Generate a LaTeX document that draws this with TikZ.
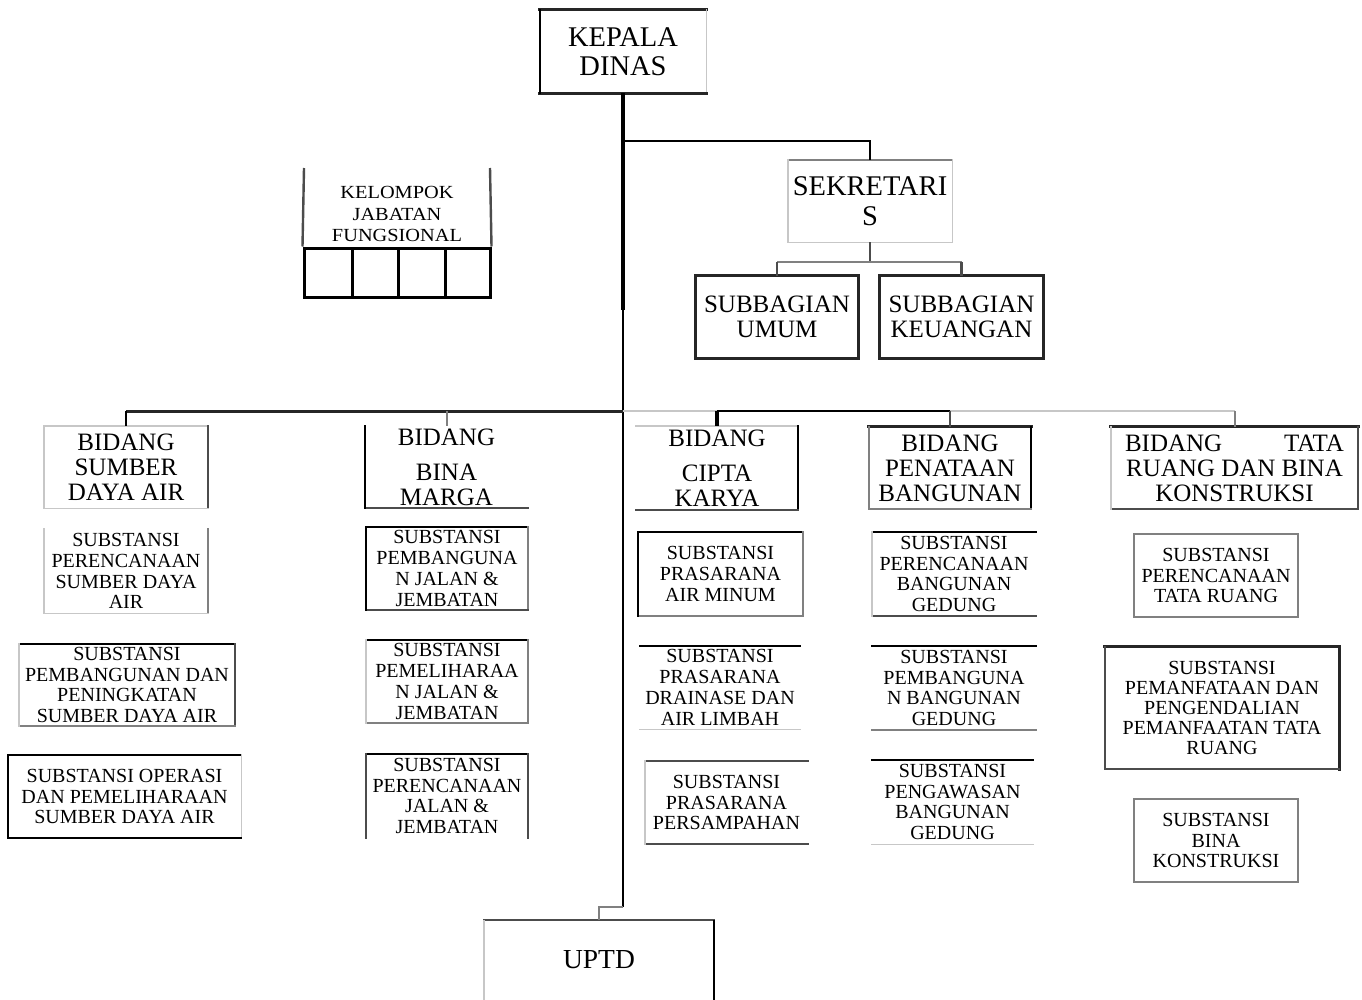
\documentclass[tikz,border=0pt]{standalone}
\usepackage{fontspec}
\setmainfont{Liberation Serif}
\newfontfamily\wideserif[FakeStretch=1.1]{Liberation Serif}
\newcommand\bigtxt{\fontsize{28.5}{29.5}\selectfont}
\newcommand\hdrtxt{\fontsize{25}{25}\selectfont}
\newcommand\subtxt{\fontsize{20}{20.8}\selectfont}
\newcommand\kjftxt{\wideserif\fontsize{18.5}{21.5}\selectfont}
\newcommand\edgesof[5]{%
  \draw[#2,line cap=rect] (#1.north west) -- (#1.north east);
  \draw[#3,line cap=rect] (#1.north east) -- (#1.south east);
  \draw[#4,line cap=rect] (#1.south east) -- (#1.south west);
  \draw[#5,line cap=rect] (#1.south west) -- (#1.north west);}
\begin{document}
\begin{tikzpicture}[x=1pt,y=-1pt,
  kline/.style={line width=2.2pt,black},
  tline/.style={line width=3pt,black!85},
  dline/.style={line width=2.4pt,black!70},
  gline/.style={line width=2pt,black!50},
  lline/.style={line width=1.4pt,black!22},
  nol/.style={draw=none},
  bx/.style={inner sep=0pt,align=center,text=black},
  bigbox/.style={bx,font=\bigtxt},
  hdrbox/.style={bx,font=\hdrtxt},
  subbox/.style={bx,font=\subtxt},
  cell/.style={draw=black,line width=3pt,inner sep=0pt}]
\useasboundingbox (0,0) rectangle (1362,999);
\fill[white] (0,0) rectangle (1362,999);

% ---------- top level ----------
\node[bigbox,minimum width=166pt,minimum height=83pt] (kd) at (623,51.5) {KEPALA\\DINAS};
\edgesof{kd}{tline}{lline}{tline}{kline}

\node[bigbox,minimum width=164pt,minimum height=82pt] (sek) at (870,201) {SEKRETARI\\S};
\edgesof{sek}{gline}{lline}{lline}{lline}

\node[hdrbox,minimum width=162pt,minimum height=82pt] (su) at (777,317) {SUBBAGIAN\\UMUM};
\edgesof{su}{tline}{tline}{tline}{tline}
\node[hdrbox,minimum width=163pt,minimum height=82pt] (sk) at (961.5,317) {SUBBAGIAN\\KEUANGAN};
\edgesof{sk}{tline}{tline}{tline}{tline}

% ---------- kelompok jabatan fungsional ----------
\node[bx,font=\kjftxt] (kjf) at (397,214) {KELOMPOK\\JABATAN\\FUNGSIONAL};
\node[cell,minimum width=48pt,minimum height=49pt] (c1) at (328,272.5) {};
\node[cell,minimum width=46pt,minimum height=49pt] (c2) at (375,272.5) {};
\node[cell,minimum width=47pt,minimum height=49pt] (c3) at (421.5,272.5) {};
\node[cell,minimum width=45pt,minimum height=49pt] (c4) at (467.5,272.5) {};
\coordinate (kl) at (304,168);
\coordinate (kr) at (490,168);
\draw[dline] (kl) -- (c1.north west);
\draw[dline] (kr) -- (c4.north east);

% ---------- bidang ----------
\node[hdrbox,minimum width=164pt,minimum height=82pt] (b1) at (126,467) {BIDANG\\SUMBER\\DAYA AIR};
\edgesof{b1}{lline}{dline}{lline}{lline}
\node[hdrbox,minimum width=163pt,minimum height=82pt] (b2) at (446.5,467) {BIDANG\\[10pt]BINA\\MARGA};
\edgesof{b2}{nol}{nol}{dline}{kline}
\node[hdrbox,minimum width=162pt,minimum height=84pt] (b3) at (717,468) {BIDANG\\[10pt]CIPTA\\KARYA};
\edgesof{b3}{lline}{kline}{dline}{nol}
\node[hdrbox,minimum width=162pt,minimum height=82pt] (b4) at (950,468) {BIDANG\\PENATAAN\\BANGUNAN};
\edgesof{b4}{tline}{kline}{gline}{gline}
\node[hdrbox,minimum width=247pt,minimum height=82pt] (b5) at (1234.5,468) {\makebox[219pt][s]{BIDANG\hfill TATA}\\RUANG DAN BINA\\KONSTRUKSI};
\edgesof{b5}{tline}{dline}{dline}{lline}

% ---------- substansi: sumber daya air ----------
\node[subbox,minimum width=164pt,minimum height=84pt] (s11) at (126,571) {SUBSTANSI\\PERENCANAAN\\SUMBER DAYA\\AIR};
\edgesof{s11}{nol}{gline}{lline}{lline}
\node[subbox,minimum width=216pt,minimum height=82pt] (s12) at (127,685) {SUBSTANSI\\PEMBANGUNAN DAN\\PENINGKATAN\\SUMBER DAYA AIR};
\edgesof{s12}{kline}{dline}{gline}{lline}
\node[subbox,minimum width=233pt,minimum height=83pt] (s13) at (124.5,796.5) {SUBSTANSI OPERASI\\DAN PEMELIHARAAN\\SUMBER DAYA AIR};
\edgesof{s13}{kline}{lline}{kline}{kline}

% ---------- substansi: bina marga ----------
\node[subbox,minimum width=162pt,minimum height=83pt] (s21) at (447,568.5) {SUBSTANSI\\PEMBANGUNA\\N JALAN \&\\JEMBATAN};
\edgesof{s21}{kline}{gline}{dline}{kline}
\node[subbox,minimum width=162pt,minimum height=83pt] (s22) at (447,681.5) {SUBSTANSI\\PEMELIHARAA\\N JALAN \&\\JEMBATAN};
\edgesof{s22}{kline}{gline}{gline}{lline}
\node[subbox,minimum width=162pt,minimum height=84pt] (s23) at (447,796) {SUBSTANSI\\PERENCANAAN\\JALAN \&\\JEMBATAN};
\edgesof{s23}{kline}{dline}{nol}{dline}

% ---------- substansi: cipta karya ----------
\node[subbox,minimum width=165pt,minimum height=84pt] (s31) at (720.5,574) {SUBSTANSI\\PRASARANA\\AIR MINUM};
\edgesof{s31}{kline}{gline}{gline}{kline}
\node[subbox,minimum width=160pt,minimum height=83pt] (s32) at (720,687.5) {SUBSTANSI\\PRASARANA\\DRAINASE DAN\\AIR LIMBAH};
\edgesof{s32}{kline}{nol}{lline}{nol}
\node[subbox,minimum width=163pt,minimum height=83pt] (s33) at (726.5,802.5) {SUBSTANSI\\PRASARANA\\PERSAMPAHAN};
\edgesof{s33}{dline}{nol}{dline}{lline}

% ---------- substansi: penataan bangunan ----------
\node[subbox,minimum width=164pt,minimum height=84pt] (s41) at (954,574) {SUBSTANSI\\PERENCANAAN\\BANGUNAN\\GEDUNG};
\edgesof{s41}{kline}{nol}{dline}{lline}
\node[subbox,minimum width=164pt,minimum height=84pt] (s42) at (954,688) {SUBSTANSI\\PEMBANGUNA\\N BANGUNAN\\GEDUNG};
\edgesof{s42}{kline}{nol}{gline}{nol}
\node[subbox,minimum width=161pt,minimum height=84pt] (s43) at (952.5,802) {SUBSTANSI\\PENGAWASAN\\BANGUNAN\\GEDUNG};
\edgesof{s43}{kline}{nol}{lline}{nol}

% ---------- substansi: tata ruang ----------
\node[subbox,minimum width=164pt,minimum height=83pt] (s51) at (1216,575.5) {SUBSTANSI\\PERENCANAAN\\TATA RUANG};
\edgesof{s51}{gline}{gline}{gline}{gline}
\node[subbox,minimum width=234pt,minimum height=122pt,font=\fontsize{20}{19.8}\selectfont] (s52) at (1222,708) {SUBSTANSI\\PEMANFATAAN DAN\\PENGENDALIAN\\PEMANFAATAN TATA\\RUANG};
\edgesof{s52}{tline}{tline}{dline}{dline}
\node[subbox,minimum width=164pt,minimum height=83pt] (s53) at (1216,840.5) {SUBSTANSI\\BINA\\KONSTRUKSI};
\edgesof{s53}{gline}{gline}{gline}{gline}

% ---------- UPTD ----------
\node[bx,font=\fontsize{27.5}{28}\selectfont,minimum width=230pt,minimum height=80pt] (uptd) at (599,960) {UPTD};
\draw[dline,line cap=rect] (uptd.north west) -- (uptd.north east);
\draw[kline] (uptd.north east) -- (uptd.south east);
\draw[lline] (uptd.north west) -- (uptd.south west);

% ---------- connectors ----------
\coordinate (jt) at (623,310);
\coordinate (jsek) at (623,141);
\coordinate (jsub) at (870,262);
\coordinate (jbus) at (623,411);
\coordinate (jbot) at (623,907);
\draw[line width=4pt] (kd.south) -- (jt);
\draw[line width=2.6pt] (jt) -- (jbot);
\draw[gline] (jbot) -- (jbot -| uptd.north) -- (uptd.north);

\draw[line width=2.6pt] (jsek) -- (jsek -| sek.north) -- (sek.north);

\draw[dline] (sek.south) -- (jsub);
\draw[gline] (su.north |- jsub) -- (sk.north |- jsub);
\draw[dline] (su.north |- jsub) -- (su.north);
\draw[dline] (sk.north |- jsub) -- (sk.north);

\draw[tline] (b1.north |- jbus) -- (jbus);
\draw[lline,line width=2pt] (jbus) -- (b5.north |- jbus);
\draw[kline] (b3.north |- jbus) -- (b4.north |- jbus);
\draw[kline] (b1.north |- jbus) -- (b1.north);
\draw[gline] (b2.north |- jbus) -- (b2.north);
\draw[line width=4pt] (b3.north |- jbus) -- (b3.north);
\draw[dline] (b4.north |- jbus) -- (b4.north);
\draw[gline] (b5.north |- jbus) -- (b5.north);
\end{tikzpicture}
\end{document}
